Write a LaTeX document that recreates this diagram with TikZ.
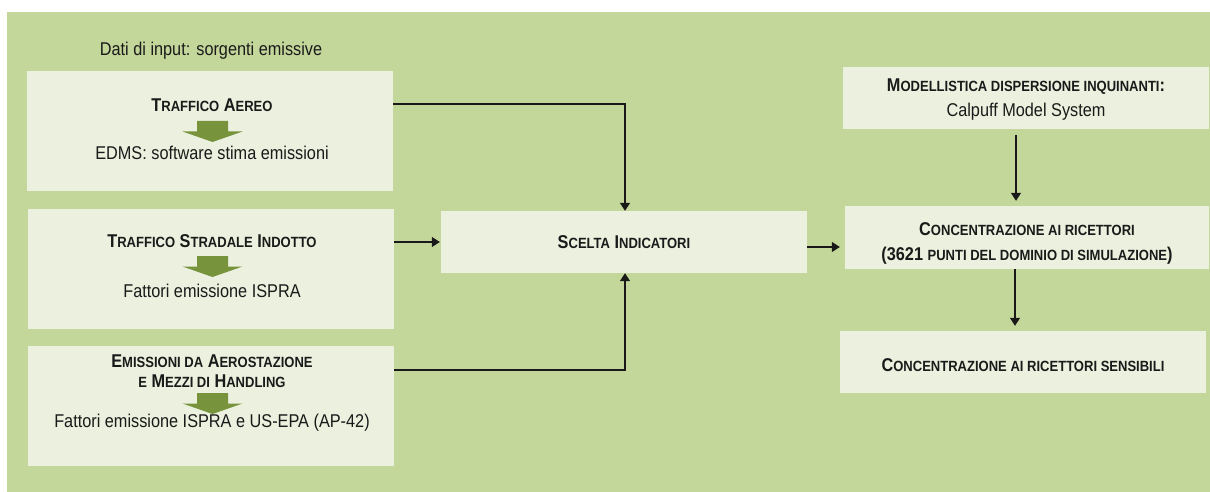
\documentclass[tikz,border=0pt]{standalone}
\usepackage{fontspec}
\setmainfont{Liberation Sans}[FakeStretch=0.88]
\usetikzlibrary{arrows.meta}
\definecolor{bggreen}{HTML}{C4D79B}
\definecolor{boxfill}{HTML}{EBF1DE}
\definecolor{arrgreen}{HTML}{77933C}
\definecolor{txt}{HTML}{1A1A1A}
\newcommand\smc[1]{{\fontsize{14.8}{17}\selectfont #1}}
\tikzset{
  box/.style={fill=boxfill, draw=none, inner sep=0pt, minimum width=366pt},
  tall/.style={box, minimum height=120pt},
  short/.style={box, minimum height=62pt},
  ttl/.style={anchor=base, inner sep=0pt, text=txt, font=\fontsize{18.5}{21}\selectfont\bfseries},
  plain/.style={anchor=base, inner sep=0pt, text=txt, font=\fontsize{18.5}{21}\selectfont},
  conn/.style={draw=black!90, line width=1.3pt, -{Triangle[length=8pt,width=10pt]}},
  garrow/.style={fill=arrgreen, draw=none}
}
\newcommand\greenarrow[2]{%
  \fill[arrgreen] (#1-15.5,#2) -- (#1+15.5,#2) -- (#1+15.5,#2+10.5) -- (#1+30,#2+10.5) -- (#1,#2+21) -- (#1-30,#2+10.5) -- (#1-15.5,#2+10.5) -- cycle;}
\begin{document}
\begin{tikzpicture}[x=1pt,y=-1pt]
\useasboundingbox (0,0) rectangle (1210,492);
\fill[bggreen] (7,12) rectangle (1210,492);
% boxes
\node[tall] (b1) at (210,131) {};
\node[tall] (b2) at (211,269) {};
\node[tall] (b3) at (211,406) {};
\node[short] (sc) at (624,242) {};
\node[short] (mod) at (1026,98) {};
\node[box, minimum width=364pt, minimum height=63pt] (conc) at (1027,237.5) {};
\node[short] (sens) at (1023,362) {};
% texts
\node[plain] (lbl) at (211,56) {Dati di input: sorgenti emissive};
\node[ttl] (t1a) at (212,112) {T\smc{RAFFICO} A\smc{EREO}};
\node[plain] (t1b) at (212,160) {EDMS: software stima emissioni};
\node[ttl] (t2a) at (212,247) {T\smc{RAFFICO} S\smc{TRADALE} I\smc{NDOTTO}};
\node[plain] (t2b) at (212,297) {Fattori emissione ISPRA};
\node[ttl] (t3a) at (212,367) {E\smc{MISSIONI DA} A\smc{EROSTAZIONE}};
\node[ttl] (t3b) at (212,387) {\smc{E} M\smc{EZZI DI} H\smc{ANDLING}};
\node[plain] (t3c) at (212,427) {Fattori emissione ISPRA e US-EPA (AP-42)};
\node[ttl] (tsc) at (624,248) {S\smc{CELTA} I\smc{NDICATORI}};
\node[ttl] (tm1) at (1026,92) {M\smc{ODELLISTICA DISPERSIONE INQUINANTI}:};
\node[plain] (tm2) at (1026,117) {Calpuff Model System};
\node[ttl] (tc1) at (1027,235) {C\smc{ONCENTRAZIONE AI RICETTORI}};
\node[ttl] (tc2) at (1027,260) {(3621 \smc{PUNTI DEL DOMINIO DI SIMULAZIONE})};
\node[ttl] (ts) at (1023,371) {C\smc{ONCENTRAZIONE AI RICETTORI SENSIBILI}};
% green arrows
\greenarrow{212.5}{121}
\greenarrow{212.5}{256}
\greenarrow{212.5}{393}
% connectors
\coordinate (c1) at (625,104);
\coordinate (c3) at (625,370);
\coordinate (c4) at (0,247);
\coordinate (c5) at (1016,0);
\coordinate (c6) at (1015,0);
\draw[conn] (b1.east |- c1) -- (c1) -- (sc.north -| c1);
\draw[conn, shorten >=1pt] (b2.east |- sc.west) -- (sc.west);
\draw[conn] (b3.east |- c3) -- (c3) -- (sc.south -| c3);
\draw[conn, shorten >=5pt] (sc.east |- c4) -- (conc.west |- c4);
\draw[conn, shorten <=6pt, shorten >=5pt] (mod.south -| c5) -- (conc.north -| c5);
\draw[conn, shorten >=5pt] (conc.south -| c6) -- (sens.north -| c6);
\end{tikzpicture}
\end{document}
